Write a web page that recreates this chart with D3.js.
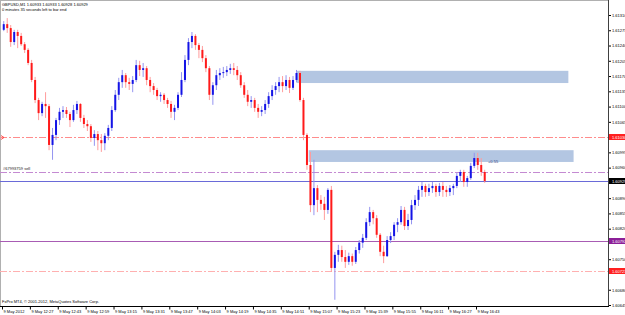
<!DOCTYPE html>
<html>
<head>
<meta charset="utf-8">
<script src="https://cdn.jsdelivr.net/npm/d3@7"></script>
<style>
  body { margin: 0; background: #fff; }
  text { font-family: "Liberation Sans", Arial, sans-serif; }
</style>
</head>
<body>
<script>
// GBPUSD one-minute chart, 9 May 2012 (bars shown every 2 minutes)
var firstBar = '12:12', barStep = 2;

var open = [1.61276,1.61289,1.61280,1.61248,1.61271,1.61262,1.61243,1.61230,1.61200,1.61161,
  1.61115,1.61085,1.61106,1.61101,1.61012,1.61035,1.61069,1.61088,1.61092,1.61083,
  1.61069,1.61092,1.61106,1.61074,1.61060,1.61055,1.61028,1.61037,1.61023,1.61016,
  1.61033,1.61051,1.61092,1.61127,1.61156,1.61172,1.61156,1.61152,1.61161,1.61195,
  1.61184,1.61188,1.61161,1.61147,1.61138,1.61124,1.61127,1.61115,1.61106,1.61088,
  1.61097,1.61127,1.61161,1.61207,1.61248,1.61262,1.61241,1.61230,1.61211,1.61188,
  1.61127,1.61149,1.61172,1.61177,1.61179,1.61184,1.61188,1.61184,1.61172,1.61149,
  1.61127,1.61111,1.61115,1.61097,1.61088,1.61092,1.61106,1.61124,1.61138,1.61147,
  1.61156,1.61147,1.61161,1.61143,1.61161,1.61177,1.61115,1.61035,1.60966,1.60874,
  1.60913,1.60886,1.60877,1.60863,1.60909,1.60730,1.60760,1.60771,1.60755,1.60744,
  1.60757,1.60744,1.60771,1.60788,1.60799,1.60835,1.60858,1.60844,1.60806,1.60767,
  1.60757,1.60794,1.60803,1.60829,1.60835,1.60863,1.60826,1.60840,1.60874,1.60886,
  1.60909,1.60918,1.60904,1.60913,1.60918,1.60904,1.60918,1.60909,1.60904,1.60913,
  1.60918,1.60941,1.60950,1.60927,1.60936,1.60964,1.60982,1.60966,1.60950];

var high = [1.61296,1.61303,1.61287,1.61276,1.61276,1.61269,1.61248,1.61234,1.61207,1.61168,
  1.61120,1.61111,1.61133,1.61106,1.61051,1.61074,1.61097,1.61101,1.61099,1.61088,
  1.61104,1.61113,1.61108,1.61081,1.61069,1.61060,1.61046,1.61044,1.61037,1.61039,
  1.61058,1.61101,1.61138,1.61166,1.61184,1.61177,1.61166,1.61170,1.61207,1.61205,
  1.61200,1.61193,1.61168,1.61154,1.61143,1.61133,1.61131,1.61120,1.61113,1.61104,
  1.61133,1.61179,1.61218,1.61257,1.61271,1.61266,1.61246,1.61239,1.61218,1.61193,
  1.61156,1.61184,1.61188,1.61191,1.61193,1.61198,1.61200,1.61193,1.61179,1.61156,
  1.61138,1.61124,1.61120,1.61106,1.61101,1.61115,1.61133,1.61149,1.61156,1.61168,
  1.61170,1.61172,1.61168,1.61170,1.61184,1.61182,1.61120,1.61039,1.60996,1.60978,
  1.60920,1.60897,1.60893,1.60913,1.60918,1.60767,1.60783,1.60781,1.60771,1.60765,
  1.60763,1.60778,1.60794,1.60808,1.60844,1.60870,1.60863,1.60851,1.60810,1.60781,
  1.60803,1.60812,1.60835,1.60844,1.60872,1.60870,1.60854,1.60886,1.60897,1.60918,
  1.60927,1.60923,1.60923,1.60927,1.60923,1.60925,1.60927,1.60918,1.60920,1.60923,
  1.60948,1.60955,1.60955,1.60941,1.60971,1.60994,1.60994,1.60982,1.60955];

var low = [1.61273,1.61269,1.61237,1.61241,1.61234,1.61239,1.61223,1.61195,1.61156,1.61108,
  1.61069,1.61078,1.61074,1.61000,1.60978,1.61023,1.61058,1.61074,1.61074,1.61053,
  1.61065,1.61083,1.61065,1.61051,1.61044,1.61019,1.61010,1.61000,1.60996,1.61000,
  1.61023,1.61044,1.61088,1.61115,1.61143,1.61143,1.61138,1.61133,1.61156,1.61170,
  1.61168,1.61149,1.61133,1.61127,1.61115,1.61111,1.61106,1.61097,1.61074,1.61069,
  1.61092,1.61122,1.61156,1.61195,1.61234,1.61230,1.61211,1.61202,1.61179,1.61115,
  1.61104,1.61138,1.61161,1.61166,1.61170,1.61175,1.61172,1.61161,1.61143,1.61120,
  1.61101,1.61097,1.61088,1.61074,1.61078,1.61083,1.61097,1.61115,1.61127,1.61133,
  1.61133,1.61138,1.61131,1.61138,1.61156,1.61111,1.61023,1.60955,1.60858,1.60851,
  1.60858,1.60863,1.60840,1.60854,1.60721,1.60657,1.60744,1.60744,1.60730,1.60737,
  1.60735,1.60739,1.60763,1.60776,1.60794,1.60826,1.60830,1.60799,1.60757,1.60741,
  1.60755,1.60787,1.60794,1.60812,1.60829,1.60817,1.60817,1.60830,1.60863,1.60872,
  1.60893,1.60893,1.60895,1.60902,1.60893,1.60895,1.60893,1.60893,1.60895,1.60897,
  1.60913,1.60927,1.60916,1.60916,1.60932,1.60959,1.60955,1.60941,1.60925];

var close = [1.61289,1.61280,1.61248,1.61271,1.61262,1.61243,1.61230,1.61200,1.61161,1.61115,
  1.61085,1.61106,1.61101,1.61012,1.61035,1.61069,1.61088,1.61092,1.61083,1.61069,
  1.61092,1.61106,1.61074,1.61060,1.61055,1.61028,1.61037,1.61023,1.61016,1.61033,
  1.61051,1.61092,1.61127,1.61156,1.61172,1.61156,1.61152,1.61161,1.61195,1.61184,
  1.61188,1.61161,1.61147,1.61138,1.61124,1.61127,1.61115,1.61106,1.61088,1.61097,
  1.61127,1.61161,1.61207,1.61248,1.61262,1.61241,1.61230,1.61211,1.61188,1.61127,
  1.61149,1.61172,1.61177,1.61179,1.61184,1.61188,1.61184,1.61172,1.61149,1.61127,
  1.61111,1.61115,1.61097,1.61088,1.61092,1.61106,1.61124,1.61138,1.61147,1.61156,
  1.61147,1.61161,1.61143,1.61161,1.61177,1.61115,1.61035,1.60966,1.60874,1.60913,
  1.60886,1.60877,1.60863,1.60909,1.60730,1.60760,1.60771,1.60755,1.60744,1.60757,
  1.60744,1.60771,1.60788,1.60799,1.60835,1.60858,1.60844,1.60806,1.60767,1.60757,
  1.60794,1.60803,1.60829,1.60835,1.60863,1.60826,1.60840,1.60874,1.60886,1.60909,
  1.60918,1.60904,1.60913,1.60918,1.60904,1.60918,1.60909,1.60904,1.60913,1.60918,
  1.60941,1.60950,1.60927,1.60936,1.60964,1.60982,1.60966,1.60950,1.60929];

var tickTimes = ['12:11','12:27','12:43','12:59','13:15','13:31','13:47','14:03','14:19',
  '14:35','14:51','15:07','15:23','15:39','15:55','16:11','16:27','16:43'];
var timeLabels = ['9 May 2012','9 May 12:27','9 May 12:43','9 May 12:59','9 May 13:15',
  '9 May 13:31','9 May 13:47','9 May 14:03','9 May 14:19','9 May 14:35','9 May 14:51',
  '9 May 15:07','9 May 15:23','9 May 15:39','9 May 15:55','9 May 16:11','9 May 16:27','9 May 16:43'];
var priceTicks = [1.60645,1.60680,1.60715,1.60750,1.60785,1.60820,1.60855,1.60890,1.60925,1.60960,
  1.60995,1.61030,1.61065,1.61100,1.61135,1.61170,1.61205,1.61240,1.61275,1.61310];

// horizontal lines: stop level, order, bid, level, take level
var levelNames  = ['stop', 'order', 'bid', 'hline', 'take'];
var levelPrices = [1.61030, 1.60951, 1.60929, 1.60792, 1.60723];

// rectangles: [start time, end time, top price, bottom price]
var boxStart = ['15:00', '15:07'];
var boxEnd   = ['17:36', '17:39'];
var boxTop   = [1.61182, 1.61000];
var boxBottom= [1.61154, 1.60973];

var W = 625, H = 315;
var plotRight = 608, plotBottom = 306;

function mins(s) { var p = s.split(':'); return +p[0] * 60 + +p[1]; }

var svg = d3.select('body').append('svg')
  .attr('width', W).attr('height', H);

var x = d3.scaleLinear()
  .domain([mins('12:11'), mins('16:43')])
  .range([2, 476]);
var y = d3.scaleLinear()
  .domain([1.60645, 1.61310])
  .range([305, 15]);

var bars = open.map(function (o, i) {
  return { t: mins(firstBar) + i * barStep, o: o, h: high[i], l: low[i], c: close[i] };
});

// frame
svg.append('line').attr('x1', 0).attr('x2', plotRight).attr('y1', 0.5).attr('y2', 0.5)
  .attr('stroke', '#b0b0b0');
svg.append('line').attr('x1', 0.5).attr('x2', 0.5).attr('y1', 0).attr('y2', plotBottom)
  .attr('stroke', '#b0b0b0');

// rectangles
var plot = svg.append('g');
plot.selectAll('rect.box')
  .data(boxStart)
  .enter().append('rect')
  .attr('class', 'box')
  .attr('x', function (d) { return x(mins(d)); })
  .attr('width', function (d, i) { return x(mins(boxEnd[i])) - x(mins(d)); })
  .attr('y', function (d, i) { return y(boxTop[i]); })
  .attr('height', function (d, i) { return y(boxBottom[i]) - y(boxTop[i]); })
  .attr('fill', '#b3c6e2');

// level lines
var lineColor = { stop: '#ff8c8c', order: '#c48ad2', bid: '#6a6ad8', hline: '#a85cb4', take: '#ffb0b0' };
var lineDash  = { stop: '7,2,2,2', order: '7,2,2,2', bid: null, hline: null, take: '7,2,2,2' };
plot.selectAll('line.level')
  .data(levelNames)
  .enter().append('line')
  .attr('x1', 0).attr('x2', plotRight)
  .attr('y1', function (d, i) { return Math.round(y(levelPrices[i])) + 0.5; })
  .attr('y2', function (d, i) { return Math.round(y(levelPrices[i])) + 0.5; })
  .attr('stroke', function (d) { return lineColor[d]; })
  .attr('stroke-dasharray', function (d) { return lineDash[d]; });

// candles
var up = function (d) { return d.c >= d.o; };
plot.selectAll('line.wick')
  .data(bars)
  .enter().append('line')
  .attr('x1', function (d) { return x(d.t); })
  .attr('x2', function (d) { return x(d.t); })
  .attr('y1', function (d) { return y(d.h); })
  .attr('y2', function (d) { return y(d.l); })
  .attr('stroke', function (d) { return up(d) ? '#9494f0' : '#ff9c9c'; })
  .attr('stroke-width', 1);
plot.selectAll('rect.body')
  .data(bars)
  .enter().append('rect')
  .attr('x', function (d) { return x(d.t) - 1; })
  .attr('width', 2)
  .attr('y', function (d) { return y(Math.max(d.o, d.c)); })
  .attr('height', function (d) { return Math.max(1, Math.abs(y(d.o) - y(d.c))); })
  .attr('fill', function (d) { return up(d) ? '#1414e6' : '#ff1a1a'; });

// price boxes on the axis (they hide the grid labels underneath)
var boxFill = { stop: '#ff2020', bid: '#000000', hline: '#8c1f98', take: '#ff2020' };
var tagged = levelNames.filter(function (d) { return boxFill[d]; });
var tagY = tagged.map(function (d) { return Math.round(y(levelPrices[levelNames.indexOf(d)])); });
var shownTicks = priceTicks.filter(function (p) {
  return tagY.every(function (t) { return Math.abs(y(p) - t) > 4; });
});

// price axis
var yAxis = svg.append('g')
  .attr('transform', 'translate(' + plotRight + ',0)')
  .call(d3.axisRight(y).tickValues(shownTicks).tickSize(3).tickPadding(1)
    .tickFormat(d3.format('.5f')));
yAxis.select('.domain').remove();
yAxis.selectAll('text').attr('font-size', '4px').attr('font-family', '"Liberation Sans", Arial, sans-serif').attr('fill', '#000');
yAxis.selectAll('line').attr('stroke', '#000');

svg.append('line').attr('x1', plotRight + 0.5).attr('x2', plotRight + 0.5)
  .attr('y1', 0).attr('y2', plotBottom + 0.5).attr('stroke', '#404040');

var tags = svg.append('g').selectAll('g')
  .data(tagged)
  .enter().append('g')
  .attr('transform', function (d, i) { return 'translate(' + (plotRight + 1) + ',' + tagY[i] + ')'; });
tags.append('rect').attr('x', 0).attr('y', -3).attr('width', W - plotRight).attr('height', 6)
  .attr('fill', function (d) { return boxFill[d]; });
tags.append('text').attr('x', 3).attr('y', 1.5).attr('font-size', '4px').attr('fill', '#fff')
  .text(function (d) { return d3.format('.5f')(levelPrices[levelNames.indexOf(d)]); });

// stop marker on the left edge
svg.append('path')
  .attr('d', 'M1,' + (tagY[0] - 1.5) + 'l3,2l-3,2')
  .attr('fill', 'none').attr('stroke', '#ff3030').attr('stroke-width', 0.8);

// time axis
svg.append('line').attr('x1', 0).attr('x2', plotRight + 1)
  .attr('y1', plotBottom + 0.5).attr('y2', plotBottom + 0.5).attr('stroke', '#000');
var xAxis = svg.append('g')
  .attr('transform', 'translate(0,' + (plotBottom + 0.5) + ')')
  .call(d3.axisBottom(x).tickValues(tickTimes.map(mins)).tickSize(3).tickPadding(1)
    .tickFormat(function (d, i) { return timeLabels[i]; }));
xAxis.select('.domain').remove();
xAxis.selectAll('line').attr('stroke', '#000');
xAxis.selectAll('text')
  .attr('font-size', '4px').attr('font-family', '"Liberation Sans", Arial, sans-serif')
  .attr('fill', '#000').attr('text-anchor', 'start').attr('dx', 1).attr('dy', '0.5em');

// texts
svg.append('text').attr('x', 2).attr('y', 6).attr('font-size', '4px')
  .text('GBPUSD,M1  1.60933 1.60933 1.60928 1.60929');
svg.append('text').attr('x', 2).attr('y', 11).attr('font-size', '4px')
  .text('0 minutes 35 seconds left to bar end');
svg.append('text').attr('x', 3).attr('y', y(levelPrices[1]) - 2).attr('font-size', '4px')
  .attr('fill', '#202020').text('#67993759 sell');
svg.append('text').attr('x', 488).attr('y', 163).attr('font-size', '4px')
  .attr('fill', '#2a3a7a').text('+0.55');
svg.append('text').attr('x', 2).attr('y', plotBottom - 3).attr('font-size', '4px')
  .text('FxPro MT4, \u00a9 2001-2012, MetaQuotes Software Corp.');
</script>
</body>
</html>
